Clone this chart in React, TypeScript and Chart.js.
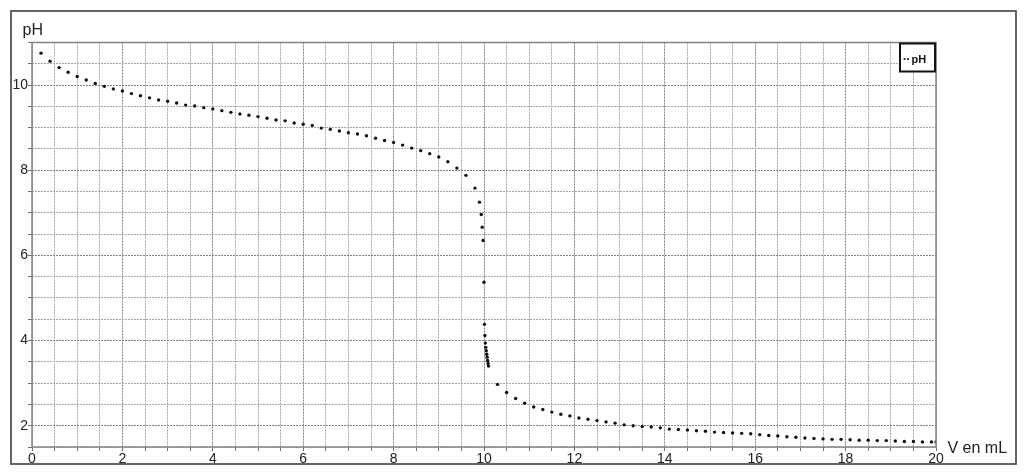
import React, { useEffect, useRef } from "react";
import { Chart, registerables } from "chart.js";

Chart.register(...registerables);

const volumes: number[] = [
  0.2, 0.4, 0.6, 0.8, 1.0, 1.2, 1.4, 1.6, 1.8, 2.0,
  2.2, 2.4, 2.6, 2.8, 3.0, 3.2, 3.4, 3.6, 3.8, 4.0,
  4.2, 4.4, 4.6, 4.8, 5.0, 5.2, 5.4, 5.6, 5.8, 6.0,
  6.2, 6.4, 6.6, 6.8, 7.0, 7.2, 7.4, 7.6, 7.8, 8.0,
  8.2, 8.4, 8.6, 8.8, 9.0, 9.2, 9.4, 9.6, 9.8, 9.9,
  9.94, 9.96, 9.98, 10.0, 10.01, 10.02, 10.03, 10.04, 10.05, 10.06,
  10.07, 10.08, 10.09, 10.1, 10.3, 10.5, 10.7, 10.9, 11.1, 11.3,
  11.5, 11.7, 11.9, 12.1, 12.3, 12.5, 12.7, 12.9, 13.1, 13.3,
  13.5, 13.7, 13.9, 14.1, 14.3, 14.5, 14.7, 14.9, 15.1, 15.3,
  15.5, 15.7, 15.9, 16.1, 16.3, 16.5, 16.7, 16.9, 17.1, 17.3,
  17.5, 17.7, 17.9, 18.1, 18.3, 18.5, 18.7, 18.9, 19.1, 19.3,
  19.5, 19.7, 19.9, 20.0,
];

const phValues: number[] = [
  10.75, 10.56, 10.41, 10.3, 10.2, 10.12, 10.04, 9.97, 9.91, 9.86,
  9.8, 9.75, 9.7, 9.65, 9.62, 9.58, 9.53, 9.51, 9.47, 9.44,
  9.4, 9.36, 9.32, 9.29, 9.26, 9.22, 9.18, 9.16, 9.11, 9.08,
  9.05, 8.99, 8.96, 8.92, 8.88, 8.85, 8.81, 8.75, 8.7, 8.65,
  8.59, 8.52, 8.46, 8.39, 8.31, 8.2, 8.05, 7.88, 7.58, 7.25,
  6.96, 6.66, 6.35, 5.37, 4.38, 4.12, 3.94, 3.84, 3.76, 3.68,
  3.61, 3.53, 3.46, 3.4, 2.97, 2.78, 2.64, 2.53, 2.44, 2.38,
  2.32, 2.27, 2.23, 2.18, 2.15, 2.12, 2.09, 2.06, 2.02, 2.0,
  1.98, 1.97, 1.95, 1.92, 1.91, 1.9, 1.88, 1.87, 1.85, 1.84,
  1.83, 1.82, 1.81, 1.79, 1.77, 1.76, 1.74, 1.73, 1.71, 1.7,
  1.69, 1.68, 1.68, 1.67, 1.66, 1.66, 1.65, 1.65, 1.64, 1.63,
  1.63, 1.62, 1.62, 1.62,
];

const seriesLabel = "pH";
const xTitle = "V en mL";
const yTitle = "pH";
const xRange = [0, 20];
const yRange = [1.5, 11];
const gridStep = 0.5;
const labelStep = 2;

const FONT = "'Liberation Sans', Arial, sans-serif";

const decorPlugin = {
  id: "decor",
  beforeDraw(chart: any) {
    const ctx = chart.ctx;
    ctx.save();
    ctx.fillStyle = "#ffffff";
    ctx.fillRect(0, 0, chart.width, chart.height);
    ctx.restore();
  },
  afterDraw(chart: any) {
    const ctx = chart.ctx;
    const a = chart.chartArea;
    ctx.save();
    ctx.strokeStyle = "#858585";
    ctx.lineWidth = 1.5;
    ctx.setLineDash([]);
    ctx.strokeRect(a.left, a.top, a.right - a.left, a.bottom - a.top);
    ctx.strokeStyle = "#555555";
    ctx.lineWidth = 1.8;
    ctx.strokeRect(11, 11, 1005, 453);
    ctx.fillStyle = "#222222";
    ctx.font = `16px ${FONT}`;
    ctx.textAlign = "left";
    ctx.textBaseline = "alphabetic";
    ctx.fillText(yTitle, 22.5, 35);
    ctx.fillText(xTitle, 947.5, 452.5);
    const lx = 900, ly = 43.5, lw = 35, lh = 28;
    ctx.fillStyle = "#ffffff";
    ctx.fillRect(lx, ly, lw, lh);
    ctx.strokeStyle = "#111111";
    ctx.lineWidth = 2;
    ctx.strokeRect(lx, ly, lw, lh);
    ctx.fillStyle = "#111111";
    ctx.beginPath();
    ctx.arc(904.5, 59, 1.1, 0, Math.PI * 2);
    ctx.arc(908, 59, 1.1, 0, Math.PI * 2);
    ctx.fill();
    ctx.font = `bold 11px ${FONT}`;
    ctx.fillText(seriesLabel, 911.5, 63);
    ctx.restore();
  },
};

export default function App() {
  const canvasRef = useRef<HTMLCanvasElement | null>(null);

  useEffect(() => {
    const canvas = canvasRef.current;
    if (!canvas) return;
    const points = volumes.map((v, i) => ({ x: v, y: phValues[i] }));
    const gridColor = (ctx: any) => {
      const v = ctx.tick ? ctx.tick.value : 0;
      return Math.abs(v / labelStep - Math.round(v / labelStep)) < 1e-6 ? "#808080" : "#a6a6a6";
    };
    const tickCb = (value: any) => {
      const v = Number(value);
      return Math.abs(v / labelStep - Math.round(v / labelStep)) < 1e-6 ? String(Math.round(v)) : "";
    };
    const chart = new Chart(canvas, {
      type: "scatter",
      data: {
        datasets: [
          {
            label: seriesLabel,
            data: points,
            showLine: false,
            pointRadius: 1.7,
            pointBorderWidth: 0,
            pointBackgroundColor: "#111111",
            pointBorderColor: "#111111",
          },
        ],
      },
      options: {
        animation: false,
        responsive: false,
        devicePixelRatio: 1,
        layout: { padding: { left: 0, top: 42.5, right: 88, bottom: 0 } },
        plugins: {
          legend: { display: false },
          title: { display: false },
          tooltip: { enabled: false },
        },
        scales: {
          x: {
            type: "linear",
            min: xRange[0],
            max: xRange[1],
            afterFit: (scale: any) => {
              scale.height = 26;
            },
            ticks: {
              stepSize: gridStep,
              autoSkip: false,
              maxRotation: 0,
              padding: 0,
              color: "#222222",
              font: { family: FONT, size: 14 },
              callback: tickCb,
            },
            grid: {
              color: gridColor,
              lineWidth: 1,
              drawTicks: true,
              tickLength: 4,
              tickColor: "#707070",
            },
            border: { display: false, dash: [2, 1] },
          },
          y: {
            type: "linear",
            min: yRange[0],
            max: yRange[1],
            afterFit: (scale: any) => {
              scale.width = 32;
            },
            ticks: {
              stepSize: gridStep,
              autoSkip: false,
              padding: 0,
              color: "#222222",
              font: { family: FONT, size: 14 },
              callback: tickCb,
            },
            grid: {
              color: gridColor,
              lineWidth: 1,
              drawTicks: true,
              tickLength: 4,
              tickColor: "#707070",
            },
            border: { display: false, dash: [2, 1] },
          },
        },
      },
      plugins: [decorPlugin],
    } as any);
    return () => chart.destroy();
  }, []);

  return (
    <div style={{ position: "absolute", left: 0, top: 0, width: 1024, height: 473, background: "#fff" }}>
      <canvas ref={canvasRef} width={1024} height={473} style={{ display: "block", width: 1024, height: 473 }} />
    </div>
  );
}
